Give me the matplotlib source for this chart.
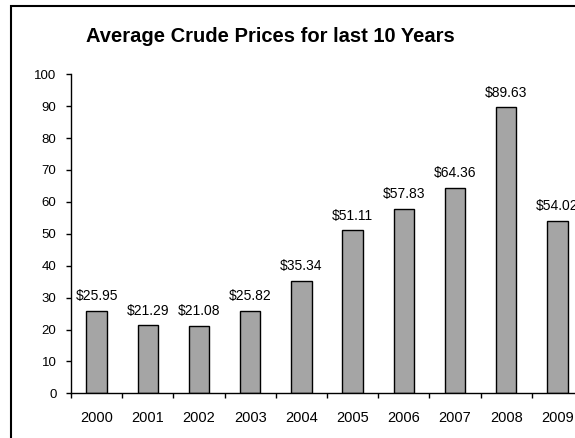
import matplotlib
matplotlib.use("Agg")
import matplotlib.pyplot as plt
from matplotlib.patches import Rectangle
import numpy as np

# Data
years = ['2000', '2001', '2002', '2003', '2004', '2005', '2006', '2007', '2008', '2009']
prices = [25.95, 21.29, 21.08, 25.82, 35.34, 51.11, 57.83, 64.36, 89.63, 54.02]
price_labels = ['$25.95', '$21.29', '$21.08', '$25.82', '$35.34',
                '$51.11', '$57.83', '$64.36', '$89.63', '$54.02']

plt.rcParams['font.family'] = ['Liberation Sans', 'DejaVu Sans']

fig = plt.figure(figsize=(5.75, 4.38), dpi=100)
# axes runs past the right edge, like the cropped original
ax = fig.add_axes([71 / 575, 44.7 / 438, 512 / 575, 319 / 438])

x = np.arange(len(years))
ax.bar(x, prices, width=0.4, color='#a5a5a5', edgecolor='black', linewidth=1.0, zorder=2)

for xi, val, lab in zip(x, prices, price_labels):
    ax.annotate(lab, (xi, val), xytext=(0, 5.5), textcoords='offset points',
                ha='center', va='bottom', fontsize=10)

ax.set_xlim(-0.5, len(years) - 0.5)
ax.set_ylim(0, 100)
ax.set_yticks(np.arange(0, 101, 10))

# labels in the centre, tick marks at category boundaries
ax.set_xticks(x)
ax.set_xticklabels(years, fontsize=10.5)
ax.tick_params(axis='x', which='major', length=0, pad=13)
ax.set_xticks(np.arange(-0.5, len(years), 1), minor=True)
ax.tick_params(axis='x', which='minor', length=3.5, width=1, direction='out')
ax.tick_params(axis='y', length=3.5, width=1, pad=7, labelsize=9.5)

for s in ['top', 'right']:
    ax.spines[s].set_visible(False)
for s in ['left', 'bottom']:
    ax.spines[s].set_linewidth(1)

fig.text(270 / 575, 1 - 37 / 438, 'Average Crude Prices for last 10 Years',
         ha='center', va='center', fontsize=14.5, fontweight='bold')

# outer chart frame (right/bottom edges cut off)
fig.patches.append(Rectangle((11 / 575, -0.1), 1.2, 1 - 6 / 438 + 0.1,
                             transform=fig.transFigure, fill=False,
                             edgecolor='black', linewidth=1.5))

fig.savefig('out.png', dpi=100)
